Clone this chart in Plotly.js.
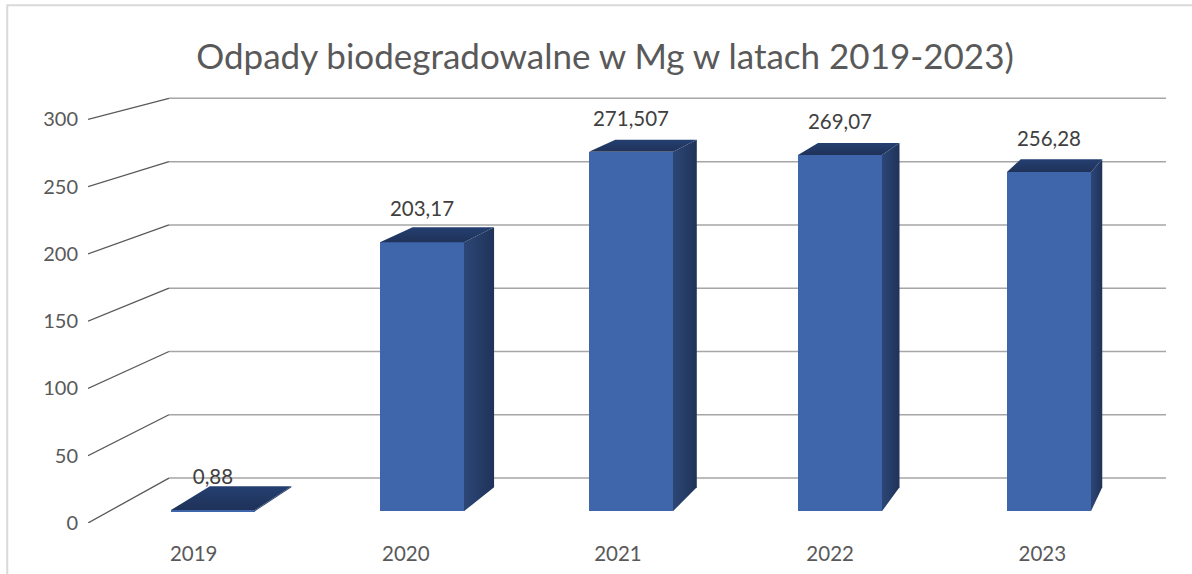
<!DOCTYPE html>
<html><head><meta charset="utf-8">
<script src="https://cdn.plot.ly/plotly-3.0.1.min.js"></script>
<style>html,body{margin:0;padding:0;background:#fff}#c{width:1192px;height:574px}</style>
</head><body><div id="c"></div>
<script>
const categories = ['2019','2020','2021','2022','2023'];
const values = [0.88, 203.17, 271.507, 269.07, 256.28];
const axisTicks = [0, 50, 100, 150, 200, 250, 300];
const titleText = 'Odpady biodegradowalne w Mg w latach 2019-2023)';

const idx = categories.map((c, i) => i);
const font = 'Lato, Carlito, Calibri, sans-serif';

// Projection of the 3-D look: the wall behind, and the back face of a bar
const WALL_X = -0.1164, WALL_Y0 = 33.4, WALL_K = 0.9406;
const wallY = v => WALL_Y0 + WALL_K * v;
const backU = u => 0.97 * u + 0.18;
const backV = v => 0.9667 * v + 18.1;
const HALF = 0.201;

// wall grid lines and side-wall diagonals, in the axis' own units
const gridX = [], gridY = [], diagX = [], diagY = [];
axisTicks.forEach(t => {
  gridX.push(WALL_X, 4.583, null); gridY.push(wallY(t), wallY(t), null);
  diagX.push(-0.498, WALL_X, null); diagY.push(t, wallY(t), null);
});

const traces = [
  {type:'scatter', mode:'lines', x:gridX, y:gridY, line:{color:'#a6a6a6', width:1.5}, hoverinfo:'skip', cliponaxis:false},
  {type:'scatter', mode:'lines', x:diagX, y:diagY, line:{color:'#595959', width:1.3}, hoverinfo:'skip', cliponaxis:false}
];

idx.forEach(i => {
  const v = values[i], l = i - HALF, r = i + HALF;
  // right side
  traces.push({type:'scatter', mode:'lines', xaxis:'x2', yaxis:'y2', hoverinfo:'skip', cliponaxis:false,
    x:[r, backU(r), backU(r), r, r], y:[0, backV(0), backV(v), v, 0],
    fill:'toself', line:{width:0, color:'#22365f'},
    fillgradient:{type:'horizontal', colorscale:[[0,'#2c4676'],[1,'#1f3359']]}});
  // top
  traces.push({type:'scatter', mode:'lines', xaxis:'x2', yaxis:'y2', hoverinfo:'skip', cliponaxis:false,
    x:[l, r, backU(r), backU(l), l], y:[v, v, backV(v), backV(v), v],
    fill:'toself', line:{width:0, color:'#1f3864'},
    fillgradient:{type:'vertical', colorscale:[[0,'#1f3259'],[1,'#243f70']]}});
});

traces.push({type:'bar', x:idx, y:values, xaxis:'x2', yaxis:'y2', width:2*HALF,
  marker:{color:'#3f65ab', line:{width:0}}, hoverinfo:'x+y'});

traces.push({type:'scatter', mode:'text', xaxis:'x2', yaxis:'y2', x:idx, y:values.map(v => v + 23.7),
  text:values.map(v => String(v).replace('.', ',')), textposition:'middle center',
  textfont:{family:font, size:20.5, color:'#404040'}, hoverinfo:'skip', cliponaxis:false});

const layout = {
  width:1192, height:574, autosize:false, showlegend:false,
  paper_bgcolor:'#ffffff', plot_bgcolor:'rgba(0,0,0,0)',
  margin:{l:88, r:26, t:90, b:50.7, pad:0},
  title:{text:titleText, font:{family:font, size:35, color:'#595959'}, x:605/1192, xanchor:'center', y:1-57/574, yanchor:'middle'},
  font:{family:font, color:'#595959'},
  bargap:0,
  xaxis:{type:'linear', range:[-0.498, 4.583], tickvals:idx, ticktext:categories, showgrid:false, zeroline:false, showline:false,
    ticks:'outside', ticklen:12, tickcolor:'rgba(0,0,0,0)', tickfont:{family:font, size:20.5, color:'#595959'}, fixedrange:true},
  yaxis:{type:'linear', range:[0, 321.8], tickvals:axisTicks, showgrid:false, zeroline:false, showline:false,
    ticks:'outside', ticklen:5, tickcolor:'rgba(0,0,0,0)', tickfont:{family:font, size:20, color:'#595959'}, fixedrange:true},
  xaxis2:{type:'linear', overlaying:'x', anchor:'y2', range:[-0.598, 4.56], visible:false, fixedrange:true},
  yaxis2:{type:'linear', overlaying:'y', anchor:'x2', range:[-8.9, 318.2], visible:false, fixedrange:true},
  shapes:[{type:'path', xref:'paper', yref:'paper', path:'M -0.0749 -0.1177 L -0.0749 1.196 L 1.0241 1.196', line:{color:'#d9d9d9', width:2}, layer:'below'}]
};
Plotly.newPlot('c', traces, layout, {displayModeBar:false, responsive:false});
</script></body></html>
